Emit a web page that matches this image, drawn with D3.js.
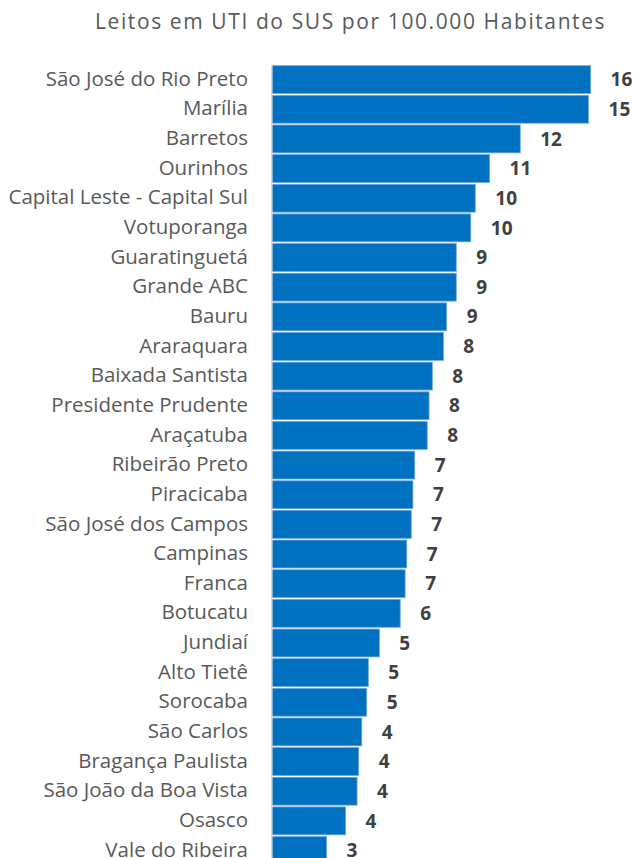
<!DOCTYPE html>
<html>
<head>
<meta charset="utf-8">
<script src="https://cdn.jsdelivr.net/npm/d3@7"></script>
<style>
  html, body { margin: 0; padding: 0; background: #fff; }
  svg { display: block; }
</style>
</head>
<body>
<svg id="chart" width="636" height="858"></svg>
<script>
const title = "Leitos em UTI do SUS por 100.000 Habitantes";
const categories = [
  "São José do Rio Preto", "Marília", "Barretos", "Ourinhos",
  "Capital Leste - Capital Sul", "Votuporanga", "Guaratinguetá", "Grande ABC",
  "Bauru", "Araraquara", "Baixada Santista", "Presidente Prudente",
  "Araçatuba", "Ribeirão Preto", "Piracicaba", "São José dos Campos",
  "Campinas", "Franca", "Botucatu", "Jundiaí", "Alto Tietê", "Sorocaba",
  "São Carlos", "Bragança Paulista", "São João da Boa Vista", "Osasco",
  "Vale do Ribeira"
];
const values = [
  15.58, 15.48, 12.14, 10.64,
  9.94, 9.72, 9.01, 9.01,
  8.54, 8.38, 7.84, 7.68,
  7.59, 6.98, 6.89, 6.81,
  6.59, 6.51, 6.27, 5.25, 4.71, 4.63,
  4.39, 4.24, 4.16, 3.60,
  2.67
];

const data = categories.map((c, i) => ({ name: c, value: values[i] }));

const svg = d3.select("#chart");
const font = "'Open Sans', 'Noto Sans', sans-serif";

const x = d3.scaleLinear().domain([0, 16]).range([272, 272 + 16 * 20.45]);
const y = d3.scaleBand()
  .domain(categories)
  .range([64.8, 64.8 + categories.length * 29.65])
  .paddingInner(0.06)
  .paddingOuter(0.03);

// title
svg.append("text")
  .attr("x", 95)
  .attr("y", 28.5)
  .attr("text-anchor", "start")
  .attr("font-family", font)
  .attr("font-size", 21)
  .attr("letter-spacing", 1.6)
  .attr("fill", "#595959")
  .text(title);

// bars
svg.append("g").selectAll("rect")
  .data(data)
  .join("rect")
  .attr("x", x(0))
  .attr("y", d => y(d.name))
  .attr("width", d => x(d.value) - x(0))
  .attr("height", y.bandwidth())
  .attr("fill", "#0070C0")
  .attr("stroke", "#6fa8dc")
  .attr("stroke-width", 0.8);

// category axis
const yAxis = d3.axisLeft(y).tickSize(0).tickPadding(24);
const gy = svg.append("g")
  .attr("transform", `translate(${x(0)},0)`)
  .call(yAxis);
gy.select(".domain").attr("stroke", "#d9d9d9").attr("stroke-width", 1)
  .attr("d", `M0,${y.range()[0]}V${y.range()[1]}`);
gy.selectAll("text")
  .attr("font-family", font)
  .attr("font-size", 20.5)
  .attr("dy", "0.3em")
  .attr("fill", "#595959");

// value labels
svg.append("g").selectAll("text")
  .data(data)
  .join("text")
  .attr("x", d => x(d.value) + 20)
  .attr("y", d => y(d.name) + y.bandwidth() / 2)
  .attr("dy", "0.35em")
  .attr("font-family", font)
  .attr("font-size", 19)
  .attr("font-weight", "bold")
  .attr("fill", "#404040")
  .text(d => d3.format(".0f")(d.value));
</script>
</body>
</html>
